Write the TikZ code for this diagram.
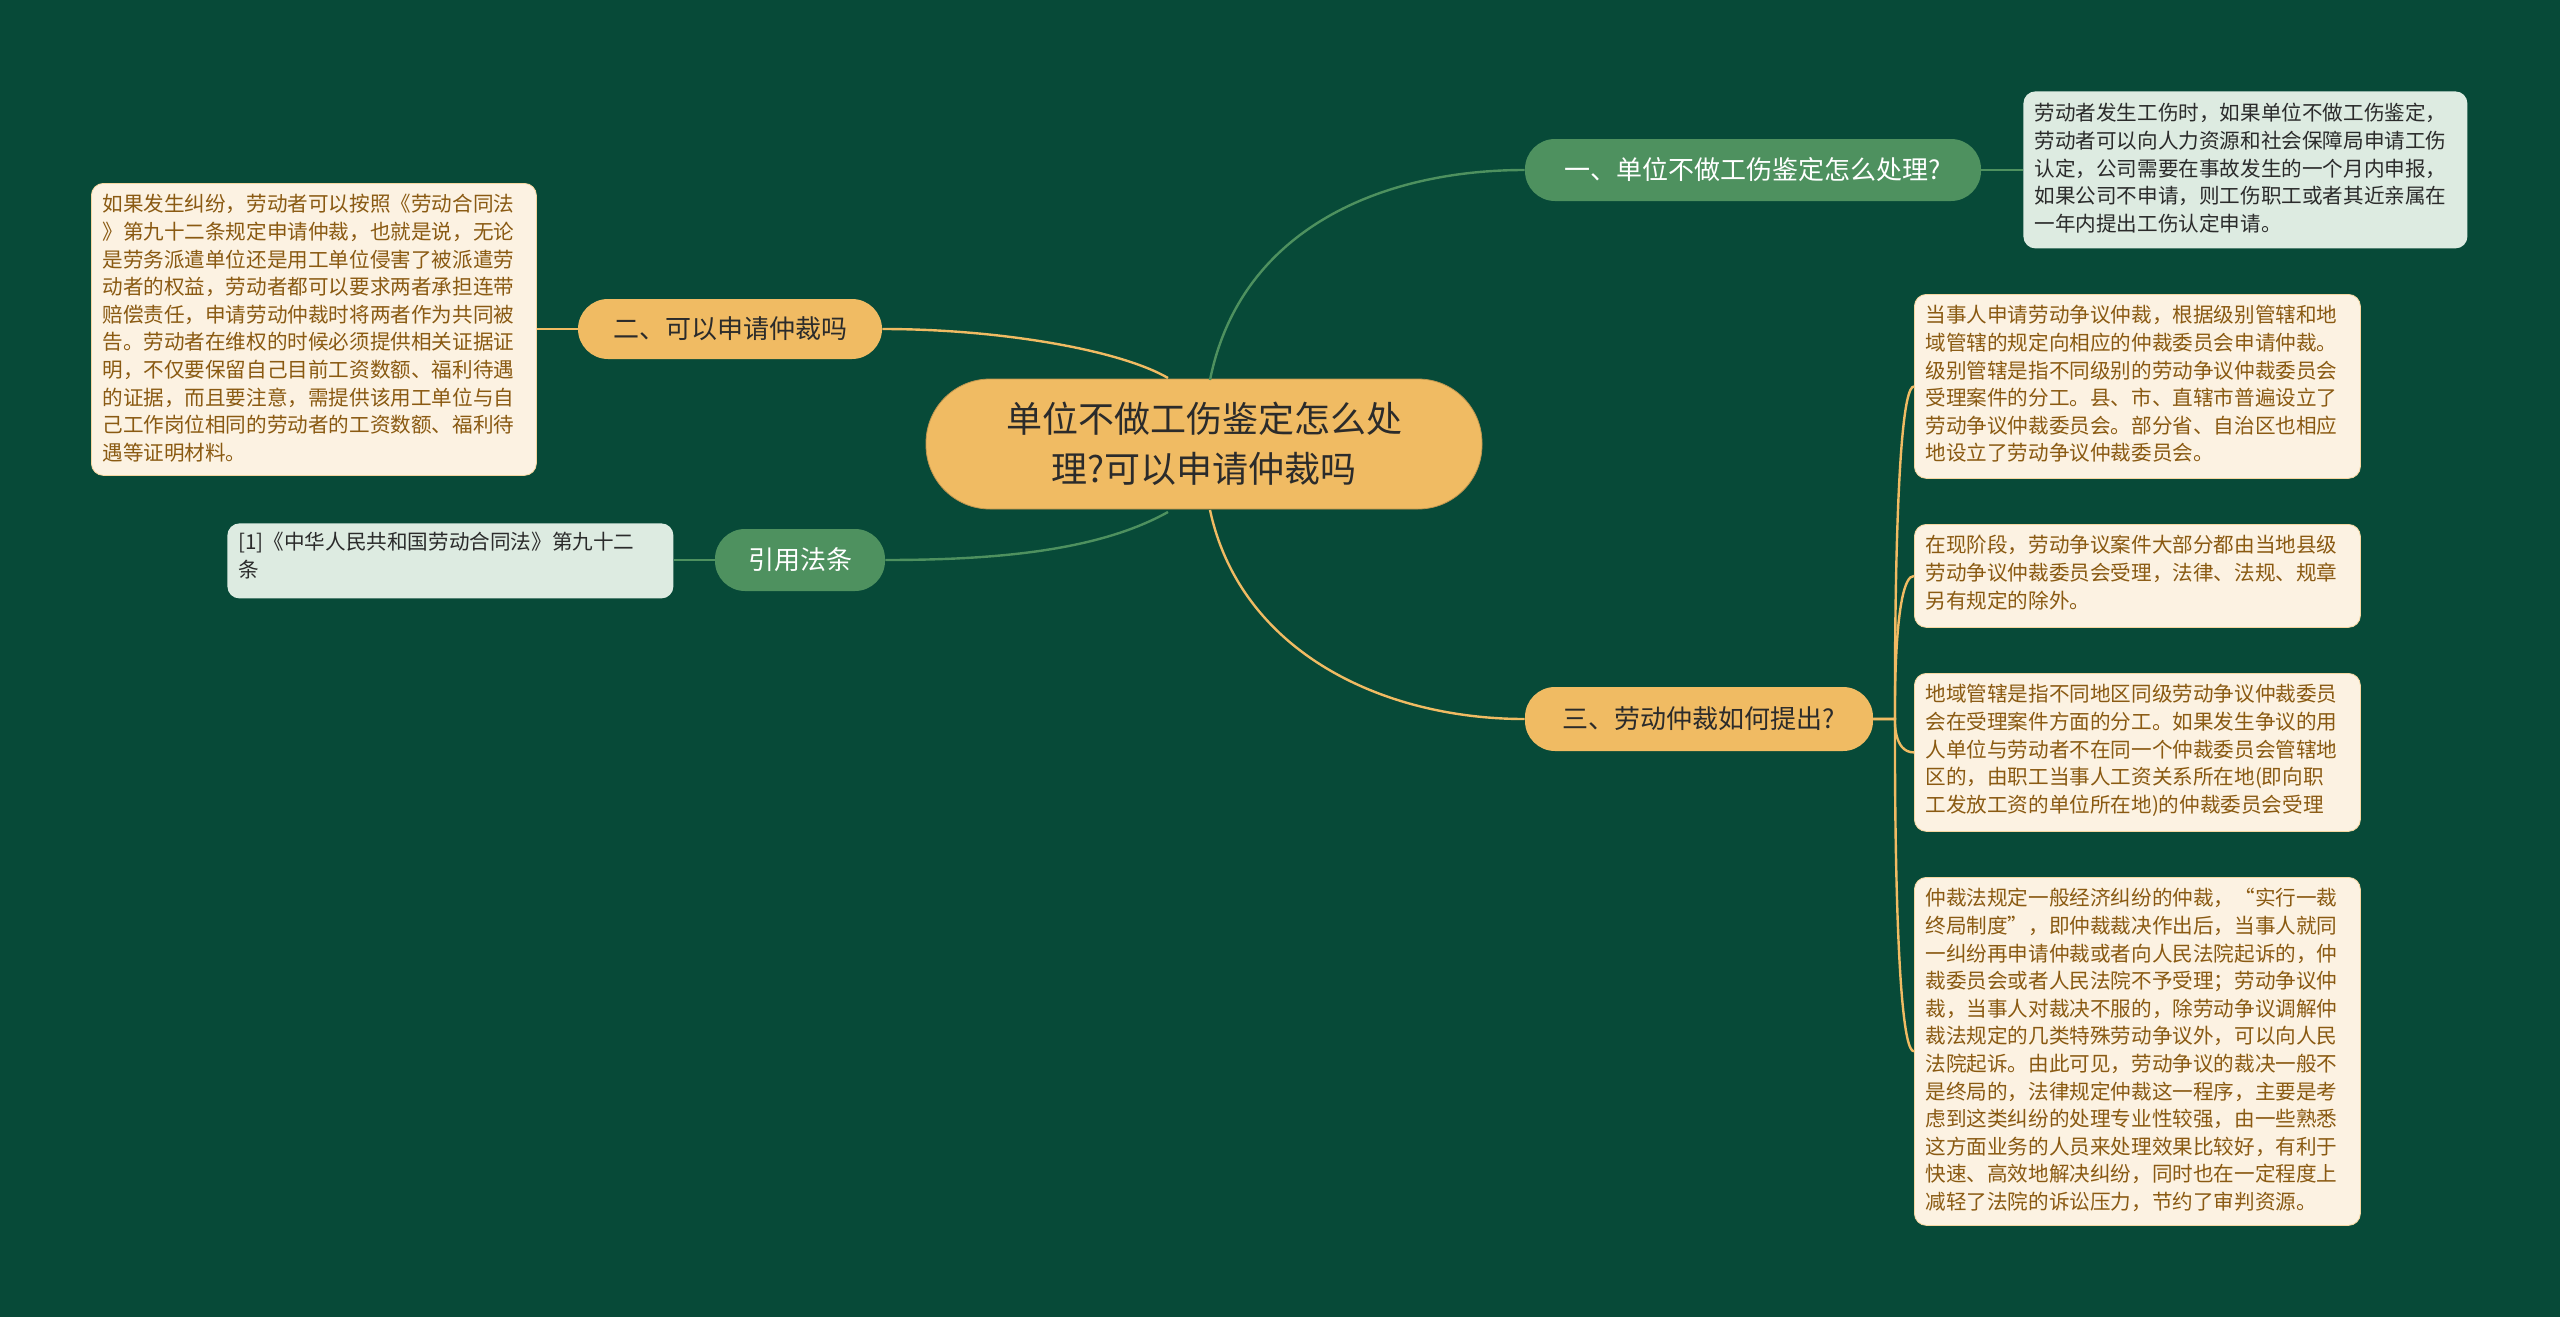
\documentclass[tikz,border=0pt]{standalone}
\usepackage{fontspec}
\setmainfont{Noto Sans CJK SC}
\definecolor{bg}{HTML}{074A38}
\definecolor{org}{HTML}{F0BB63}
\definecolor{grn}{HTML}{4E915F}
\definecolor{lgrn}{HTML}{DDEBE1}
\definecolor{cream}{HTML}{FCF2E2}
\definecolor{brn}{HTML}{8A5A12}
\definecolor{ink}{HTML}{2B2B2B}
\newcommand{\leaffont}{\fontsize{10.3}{13.8}\selectfont\lineskiplimit=-20pt\relax}
\begin{document}
\begin{tikzpicture}[x=0.5pt,y=-0.5pt,
  box/.style={rounded corners=6pt,inner sep=0pt,align=left,anchor=north west},
  leafo/.style={box,fill=cream,draw=org!60,line width=0.4pt},
  leafg/.style={box,fill=lgrn},
  txo/.style={anchor=north west,inner sep=0pt,align=left,text=brn,font=\leaffont},
  txg/.style={txo,text=ink},
  bro/.style={rounded corners=15pt,fill=org,text=ink,inner sep=0pt,font=\fontsize{13}{16}\selectfont},
  brg/.style={rounded corners=15pt,fill=grn,text=white,inner sep=0pt,font=\fontsize{13}{16}\selectfont},
  lo/.style={draw=org,line width=1.2pt},
  lg/.style={draw=grn,line width=1.2pt}]
\fill[bg] (0,0) rectangle (2560,1317);
\useasboundingbox (0,0) rectangle (2560,1317);
% center
\node[rounded corners=32pt,fill=org,draw=org!80!black,line width=0.4pt,minimum width=278pt,minimum height=65pt,inner sep=0pt,align=center,text=ink,font=\fontsize{18}{25}\selectfont] (c) at (1204,444) {单位不做工伤鉴定怎么处\\理?可以申请仲裁吗};
% branches
\node[brg,minimum width=228pt,minimum height=31pt] (b1) at (1753,170) {一、单位不做工伤鉴定怎么处理?};
\node[bro,minimum width=152pt,minimum height=30pt] (b2) at (730,329) {二、可以申请仲裁吗};
\node[brg,minimum width=85pt,minimum height=31pt] (b4) at (800,560) {引用法条};
\node[bro,minimum width=174pt,minimum height=32pt] (b3) at (1699,719) {三、劳动仲裁如何提出?};
% leaves
\node[leafg,minimum width=222pt,minimum height=78.5pt] (l1) at (2023,91) {};
\node[txg] at (2034,103) {劳动者发生工伤时，如果单位不做工伤鉴定，\\劳动者可以向人力资源和社会保障局申请工伤\\认定，公司需要在事故发生的一个月内申报，\\如果公司不申请，则工伤职工或者其近亲属在\\一年内提出工伤认定申请。};
\node[leafo,minimum width=222.5pt,minimum height=146pt] (l2) at (91,183) {};
\node[txo] at (102,194) {如果发生纠纷，劳动者可以按照《劳动合同法\\》第九十二条规定申请仲裁，也就是说，无论\\是劳务派遣单位还是用工单位侵害了被派遣劳\\动者的权益，劳动者都可以要求两者承担连带\\赔偿责任，申请劳动仲裁时将两者作为共同被\\告。劳动者在维权的时候必须提供相关证据证\\明，不仅要保留自己目前工资数额、福利待遇\\的证据，而且要注意，需提供该用工单位与自\\己工作岗位相同的劳动者的工资数额、福利待\\遇等证明材料。};
\node[leafg,minimum width=223pt,minimum height=37.5pt] (l4) at (227,523) {};
\node[txg] at (238,532) {[1]《中华人民共和国劳动合同法》第九十二\\条};
\node[leafo,minimum width=223pt,minimum height=92pt] (l3a) at (1914,294) {};
\node[txo] at (1925,305) {当事人申请劳动争议仲裁，根据级别管辖和地\\域管辖的规定向相应的仲裁委员会申请仲裁。\\级别管辖是指不同级别的劳动争议仲裁委员会\\受理案件的分工。县、市、直辖市普遍设立了\\劳动争议仲裁委员会。部分省、自治区也相应\\地设立了劳动争议仲裁委员会。};
\node[leafo,minimum width=223pt,minimum height=51.5pt] (l3b) at (1914,524) {};
\node[txo] at (1925,535) {在现阶段，劳动争议案件大部分都由当地县级\\劳动争议仲裁委员会受理，法律、法规、规章\\另有规定的除外。};
\node[leafo,minimum width=223pt,minimum height=79pt] (l3c) at (1914,673) {};
\node[txo] at (1925,684) {地域管辖是指不同地区同级劳动争议仲裁委员\\会在受理案件方面的分工。如果发生争议的用\\人单位与劳动者不在同一个仲裁委员会管辖地\\区的，由职工当事人工资关系所在地(即向职\\工发放工资的单位所在地)的仲裁委员会受理};
\node[leafo,minimum width=223pt,minimum height=174pt] (l3d) at (1914,877) {};
\node[txo] at (1925,888) {仲裁法规定一般经济纠纷的仲裁，“实行一裁\\终局制度”，即仲裁裁决作出后，当事人就同\\一纠纷再申请仲裁或者向人民法院起诉的，仲\\裁委员会或者人民法院不予受理；劳动争议仲\\裁，当事人对裁决不服的，除劳动争议调解仲\\裁法规定的几类特殊劳动争议外，可以向人民\\法院起诉。由此可见，劳动争议的裁决一般不\\是终局的，法律规定仲裁这一程序，主要是考\\虑到这类纠纷的处理专业性较强，由一些熟悉\\这方面业务的人员来处理效果比较好，有利于\\快速、高效地解决纠纷，同时也在一定程度上\\减轻了法院的诉讼压力，节约了审判资源。};
% connectors
\coordinate (ct) at (1210,380);
\coordinate (ctl) at (1168,378);
\coordinate (cbl) at (1168,512);
\coordinate (cb) at (1210,510);
\draw[lg] (ct) .. controls (1240,230) and (1380,170) .. (b1.west);
\draw[lo] (ctl) .. controls (1120,350) and (1000,329) .. (b2.east);
\draw[lg] (cbl) .. controls (1100,550) and (1000,560) .. (b4.east);
\draw[lo] (cb) .. controls (1240,650) and (1380,719) .. (b3.west);
\draw[lg] (b1.east) -- (l1.west |- b1.east);
\draw[lo] (b2.west) -- (l2.east |- b2.west);
\draw[lg] (b4.west) -- (l4.east |- b4.west);
\foreach \l in {l3a,l3b,l3c,l3d}
  \draw[lo] (b3.east) .. controls (1905,719) and (1890,719) .. (1895,719) .. controls (1895,719) and (1893,0|-\l.west) .. (\l.west);
\end{tikzpicture}
\end{document}
